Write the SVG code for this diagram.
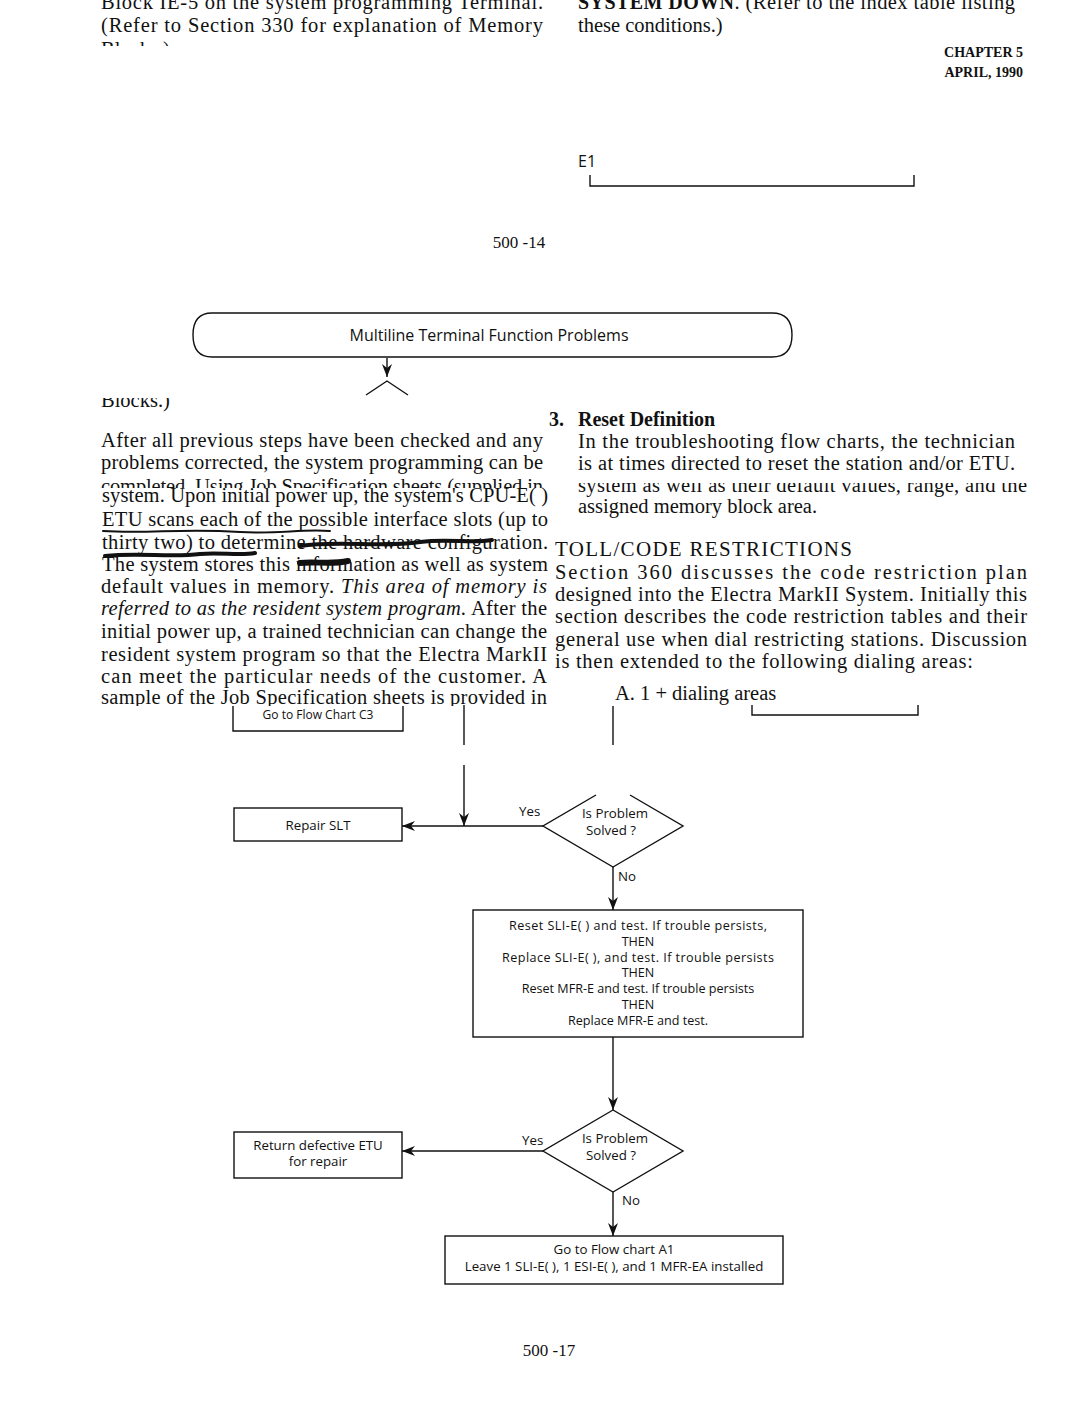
<svg xmlns="http://www.w3.org/2000/svg" width="1080" height="1407" viewBox="0 0 1080 1407">
<style>
.b{font-family:"Liberation Serif","DejaVu Serif",serif;font-size:20.5px;fill:#111}
.bb{font-family:"Liberation Serif","DejaVu Serif",serif;font-size:20px;font-weight:bold;fill:#111}
.i{font-style:italic}
.s{font-family:"Open Sans","Liberation Sans",Arial,sans-serif;font-size:13.3px;fill:#111}
.st{font-family:"Open Sans","Liberation Sans",Arial,sans-serif;font-size:12.6px;fill:#111}
.sm{font-family:"Open Sans","Liberation Sans",Arial,sans-serif;font-size:16px;fill:#111}
.ln{fill:none;stroke:#111;stroke-width:1.4}
.bx{fill:#fff;stroke:#111;stroke-width:1.4}
.sc{fill:none;stroke:#111;stroke-linecap:round}
</style>
<defs>
<marker id="ah" markerUnits="userSpaceOnUse" markerWidth="13" markerHeight="10" refX="13" refY="5" orient="auto" viewBox="0 0 13 10">
<path d="M0,0 L13,5 L0,10 L4,5 Z" fill="#111"/>
</marker>
<clipPath id="c1"><rect x="0" y="0" width="560" height="46"/></clipPath>
<clipPath id="c2"><rect x="0" y="398" width="560" height="20"/></clipPath>
<clipPath id="c3"><rect x="0" y="478" width="560" height="10"/></clipPath>
<clipPath id="c4"><rect x="560" y="483" width="500" height="15"/></clipPath>
<clipPath id="c5"><rect x="0" y="685" width="560" height="21"/></clipPath>
</defs>

<!-- top page text -->
<g id="top-text">
<text class="b" x="101" y="9" textLength="442" lengthAdjust="spacing">Block IE-5 on the system programming Terminal.</text>
<text class="b" x="101" y="32" textLength="442" lengthAdjust="spacing">(Refer to Section 330 for explanation of Memory</text>
<text class="b" x="101" y="56" clip-path="url(#c1)">Blocks.)</text>
<text x="578" y="9" textLength="437" lengthAdjust="spacing"><tspan class="bb">SYSTEM DOWN</tspan><tspan class="b">. (Refer to the index table listing</tspan></text>
<text class="b" x="578" y="32">these conditions.)</text>
<text class="bb" x="1023" y="57" text-anchor="end" style="font-size:14px">CHAPTER 5</text>
<text class="bb" x="1023" y="77" text-anchor="end" style="font-size:14px">APRIL, 1990</text>
</g>

<g id="e1">
<text class="sm" x="578" y="167">E1</text>
<path class="ln" d="M590,175 V186 H914 V175"/>
</g>

<text class="b" x="519" y="248" text-anchor="middle" style="font-size:17px">500 -14</text>

<g id="start">
<path class="bx" d="M212,313 H772 Q792,313 792,335 Q792,357 772,357 H212 Q193,357 193,335 Q193,313 212,313 Z"/>
<text class="sm" x="489" y="341" text-anchor="middle">Multiline Terminal Function Problems</text>
</g>

<!-- left column text -->
<g id="left-col">
<text class="b" x="101" y="407" clip-path="url(#c2)">Blocks.)</text>
<text class="b" x="101" y="447" textLength="442" lengthAdjust="spacing">After all previous steps have been checked and any</text>
<text class="b" x="101" y="469" textLength="442" lengthAdjust="spacing">problems corrected, the system programming can be</text>
<text class="b" x="101" y="493" textLength="442" lengthAdjust="spacing" clip-path="url(#c3)">completed. Using Job Specification sheets (supplied in</text>
<text class="b" x="102" y="502" textLength="446" lengthAdjust="spacing">system.  Upon initial power up, the system's CPU-E( )</text>
<text class="b" x="102" y="526" textLength="446" lengthAdjust="spacing">ETU scans each of the possible interface slots (up to</text>
<text class="b" x="102" y="549" textLength="446" lengthAdjust="spacing">thirty two) to determine the hardware configuration.</text>
<text class="b" x="102" y="571" textLength="446" lengthAdjust="spacing">The system stores this information as well as system</text>
<text class="b" x="101" y="593" textLength="446" lengthAdjust="spacing">default values in memory.  <tspan class="i">This area of memory is</tspan></text>
<text class="b" x="101" y="615" textLength="446" lengthAdjust="spacing"><tspan class="i">referred to as the resident system program.</tspan>  After the</text>
<text class="b" x="101" y="638" textLength="446" lengthAdjust="spacing">initial power up, a trained technician can change the</text>
<text class="b" x="101" y="661" textLength="446" lengthAdjust="spacing">resident system program so that the Electra MarkII</text>
<text class="b" x="101" y="683" textLength="446" lengthAdjust="spacing">can meet the particular needs of the customer.  A</text>
<text class="b" x="101" y="704" textLength="446" lengthAdjust="spacing" clip-path="url(#c5)">sample of the Job Specification sheets is provided in</text>
</g>

<!-- scribble marks -->
<g id="scribbles">
<path class="sc" stroke-width="2" d="M103,531 C150,534 180,528 240,532 C280,534 300,529 330,531"/>
<path class="sc" stroke-width="4" d="M300,546 C340,540 380,548 420,542 C450,538 470,544 492,540"/>
<path class="sc" stroke-width="4" d="M105,556 C140,552 170,558 200,554 C220,552 240,556 255,553"/>
<path class="sc" stroke-width="6" d="M300,563 C315,561 330,565 348,561"/>
</g>

<!-- right column text -->
<g id="right-col">
<text class="bb" x="549" y="426">3.</text>
<text class="bb" x="578" y="426">Reset Definition</text>
<text class="b" x="578" y="448" textLength="437" lengthAdjust="spacing">In the troubleshooting flow charts, the technician</text>
<text class="b" x="578" y="470" textLength="437" lengthAdjust="spacing">is at times directed to reset the station and/or ETU.</text>
<text class="b" x="578" y="492" textLength="449" lengthAdjust="spacing" clip-path="url(#c4)">system as well as their default values, range, and the</text>
<text class="b" x="578" y="513">assigned memory block area.</text>
<text class="b" x="555" y="556" textLength="297" lengthAdjust="spacing" style="font-size:21px">TOLL/CODE RESTRICTIONS</text>
<text class="b" x="555" y="579" textLength="472" lengthAdjust="spacing">Section 360 discusses the code restriction plan</text>
<text class="b" x="555" y="601" textLength="472" lengthAdjust="spacing">designed into the Electra MarkII System.  Initially this</text>
<text class="b" x="555" y="623" textLength="472" lengthAdjust="spacing">section describes the code restriction tables and their</text>
<text class="b" x="555" y="646" textLength="472" lengthAdjust="spacing">general use when dial restricting stations.  Discussion</text>
<text class="b" x="555" y="668" textLength="418" lengthAdjust="spacing">is then extended to the following dialing areas:</text>
<text class="b" x="615" y="700">A.  1 + dialing areas</text>
</g>

<!-- nodes -->
<g id="goto-c3">
<path class="ln" d="M233,706 V731 H403 V706"/>
<text class="s" x="318" y="719" text-anchor="middle" style="font-size:12px">Go to Flow Chart C3</text>
</g>
<g id="bracket-a">
<path class="ln" d="M752,705 V715 H918 V705"/>
</g>

<g id="repair-slt">
<rect class="bx" x="234" y="808" width="168" height="33"/>
<text class="s" x="318" y="830" text-anchor="middle">Repair SLT</text>
</g>

<g id="decision1">
<path class="ln" d="M596,795 L543,826 L613,867 L683,826 L630,795"/>
<text class="s" x="615" y="818" text-anchor="middle">Is Problem</text>
<text class="s" x="611" y="835" text-anchor="middle">Solved ?</text>
</g>

<g id="reset-box">
<rect class="bx" x="473" y="910" width="330" height="127"/>
<text class="st" x="638" y="930" text-anchor="middle" textLength="258" lengthAdjust="spacing">Reset SLI-E( ) and test.  If trouble persists,</text>
<text class="st" x="638" y="946" text-anchor="middle">THEN</text>
<text class="st" x="638" y="962" text-anchor="middle" textLength="272" lengthAdjust="spacing">Replace SLI-E( ), and test.  If trouble persists</text>
<text class="st" x="638" y="977" text-anchor="middle">THEN</text>
<text class="st" x="638" y="993" text-anchor="middle">Reset MFR-E and test.  If trouble persists</text>
<text class="st" x="638" y="1009" text-anchor="middle">THEN</text>
<text class="st" x="638" y="1025" text-anchor="middle">Replace MFR-E and test.</text>
</g>

<g id="decision2">
<path class="ln" d="M613,1110 L543,1151 L613,1192 L683,1151 Z"/>
<text class="s" x="615" y="1143" text-anchor="middle">Is Problem</text>
<text class="s" x="611" y="1160" text-anchor="middle">Solved ?</text>
</g>

<g id="return-etu">
<rect class="bx" x="234" y="1132" width="168" height="46"/>
<text class="s" x="318" y="1150" text-anchor="middle">Return defective ETU</text>
<text class="s" x="318" y="1166" text-anchor="middle">for repair</text>
</g>

<g id="goto-a1">
<rect class="bx" x="445" y="1236" width="338" height="48"/>
<text class="s" x="614" y="1254" text-anchor="middle">Go to Flow chart A1</text>
<text class="s" x="614" y="1271" text-anchor="middle">Leave 1 SLI-E( ), 1 ESI-E( ), and 1 MFR-EA installed</text>
</g>

<!-- connectors -->
<g id="connectors">
<line class="ln" x1="387" y1="358" x2="387" y2="377" marker-end="url(#ah)"/>
<path class="ln" d="M366,395 L387,381 L408,395"/>
<line class="ln" x1="464" y1="705" x2="464" y2="745"/>
<line class="ln" x1="613" y1="706" x2="613" y2="745"/>
<line class="ln" x1="464" y1="765" x2="464" y2="826" marker-end="url(#ah)"/>
<line class="ln" x1="543" y1="826" x2="402" y2="826" marker-end="url(#ah)"/>
<line class="ln" x1="613" y1="867" x2="613" y2="910" marker-end="url(#ah)"/>
<line class="ln" x1="613" y1="1037" x2="613" y2="1110" marker-end="url(#ah)"/>
<line class="ln" x1="543" y1="1151" x2="402" y2="1151" marker-end="url(#ah)"/>
<line class="ln" x1="613" y1="1192" x2="613" y2="1236" marker-end="url(#ah)"/>
<text class="s" x="519" y="816">Yes</text>
<text class="s" x="618" y="881">No</text>
<text class="s" x="522" y="1145">Yes</text>
<text class="s" x="622" y="1205">No</text>
</g>

<text class="b" x="549" y="1356" text-anchor="middle" style="font-size:17px">500 -17</text>
</svg>
